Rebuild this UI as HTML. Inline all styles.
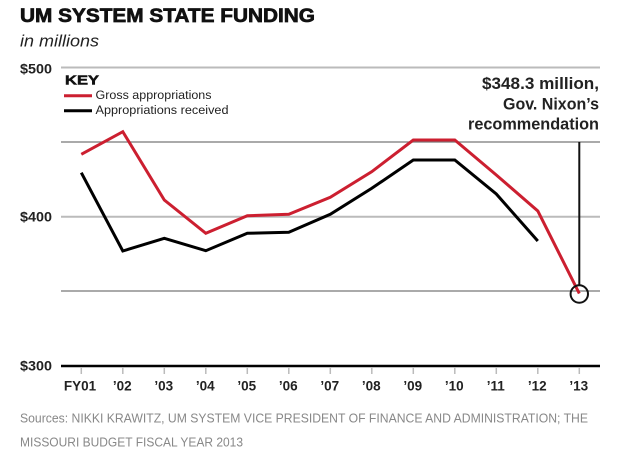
<!DOCTYPE html>
<html><head><meta charset="utf-8"><style>
html,body{margin:0;padding:0;background:#fff;}
svg{display:block;}
</style></head><body>
<svg width="624" height="456" viewBox="0 0 624 456" xmlns="http://www.w3.org/2000/svg" font-family="Liberation Sans, Arial, sans-serif">
<rect width="624" height="456" fill="#fff"/>
<!-- title -->
<text x="20" y="22" font-size="19" font-weight="bold" fill="#111" stroke="#111" stroke-width="0.7" textLength="295" lengthAdjust="spacingAndGlyphs">UM SYSTEM STATE FUNDING</text>
<text x="20" y="46.5" font-size="17" font-style="italic" fill="#222" textLength="79" lengthAdjust="spacingAndGlyphs">in millions</text>
<!-- gridlines -->
<line x1="61" y1="67.5" x2="600" y2="67.5" stroke="#bbb" stroke-width="2"/>
<line x1="61" y1="142" x2="600" y2="142" stroke="#777" stroke-width="1.2"/>
<line x1="61" y1="216.7" x2="600" y2="216.7" stroke="#bbb" stroke-width="2"/>
<line x1="61" y1="291" x2="600" y2="291" stroke="#777" stroke-width="1.2"/>
<line x1="61" y1="366" x2="600" y2="366" stroke="#000" stroke-width="2.6"/>
<!-- y labels -->
<g font-size="13.5" font-weight="bold" fill="#222">
<text x="20" y="73.5" textLength="32" lengthAdjust="spacingAndGlyphs">$500</text>
<text x="20" y="221.5" textLength="32" lengthAdjust="spacingAndGlyphs">$400</text>
<text x="20" y="370.5" textLength="32" lengthAdjust="spacingAndGlyphs">$300</text>
</g>
<!-- ticks -->
<g stroke="#bbb" stroke-width="1.5">
<line x1="81.3" y1="367" x2="81.3" y2="374"/>
<line x1="122.8" y1="367" x2="122.8" y2="374"/>
<line x1="164.3" y1="367" x2="164.3" y2="374"/>
<line x1="205.8" y1="367" x2="205.8" y2="374"/>
<line x1="247.3" y1="367" x2="247.3" y2="374"/>
<line x1="288.8" y1="367" x2="288.8" y2="374"/>
<line x1="330.3" y1="367" x2="330.3" y2="374"/>
<line x1="371.8" y1="367" x2="371.8" y2="374"/>
<line x1="413.3" y1="367" x2="413.3" y2="374"/>
<line x1="454.8" y1="367" x2="454.8" y2="374"/>
<line x1="496.3" y1="367" x2="496.3" y2="374"/>
<line x1="537.8" y1="367" x2="537.8" y2="374"/>
<line x1="579.3" y1="367" x2="579.3" y2="374"/>
</g>
<g font-size="13.5" font-weight="bold" fill="#222" text-anchor="middle">
<text x="80" y="390.3">FY01</text>
<text x="122.3" y="390.3">’02</text>
<text x="163.8" y="390.3">’03</text>
<text x="205.3" y="390.3">’04</text>
<text x="246.8" y="390.3">’05</text>
<text x="288.3" y="390.3">’06</text>
<text x="329.8" y="390.3">’07</text>
<text x="371.3" y="390.3">’08</text>
<text x="412.8" y="390.3">’09</text>
<text x="454.3" y="390.3">’10</text>
<text x="495.8" y="390.3">’11</text>
<text x="537.3" y="390.3">’12</text>
<text x="578.8" y="390.3">’13</text>
</g>
<!-- annotation -->
<line x1="579.3" y1="142" x2="579.3" y2="285" stroke="#111" stroke-width="2"/>
<g font-size="16.5" font-weight="bold" fill="#222" text-anchor="end">
<text x="599" y="89" textLength="117" lengthAdjust="spacingAndGlyphs">$348.3 million,</text>
<text x="599" y="109.5" textLength="96" lengthAdjust="spacingAndGlyphs">Gov. Nixon’s</text>
<text x="599" y="129.5" textLength="131" lengthAdjust="spacingAndGlyphs">recommendation</text>
</g>
<!-- series -->
<polyline fill="none" stroke="#000" stroke-width="3" stroke-linejoin="miter" points="81.3,172.7 122.8,251 164.3,238.3 205.8,250.7 247.3,233.3 288.8,232.3 330.3,214.3 371.8,188.3 413.3,160 454.8,160 496.3,194 537.8,241"/>
<polyline fill="none" stroke="#cc1f30" stroke-width="3" stroke-linejoin="miter" points="81.3,154.3 122.8,131.7 164.3,200 205.8,233.3 247.3,215.7 288.8,214.3 330.3,197.3 371.8,171.7 413.3,140 454.8,140 496.3,175 537.8,211 579.3,293.5"/>
<circle cx="579.3" cy="294" r="8.7" fill="none" stroke="#111" stroke-width="2"/>
<!-- legend -->
<text x="65" y="84.3" font-size="13" font-weight="bold" fill="#111" stroke="#111" stroke-width="0.5" textLength="34" lengthAdjust="spacingAndGlyphs">KEY</text>
<line x1="64" y1="95.7" x2="92" y2="95.7" stroke="#cc1f30" stroke-width="3"/>
<text x="95.5" y="99" font-size="12.3" fill="#222" textLength="116" lengthAdjust="spacingAndGlyphs">Gross appropriations</text>
<line x1="64" y1="110.7" x2="92" y2="110.7" stroke="#000" stroke-width="3"/>
<text x="95.5" y="114" font-size="12.3" fill="#222" textLength="133" lengthAdjust="spacingAndGlyphs">Appropriations received</text>
<!-- sources -->
<g font-size="13" fill="#888">
<text x="20" y="422.5" textLength="568" lengthAdjust="spacingAndGlyphs">Sources: NIKKI KRAWITZ, UM SYSTEM VICE PRESIDENT OF FINANCE AND ADMINISTRATION;  THE</text>
<text x="20" y="446.5" textLength="223" lengthAdjust="spacingAndGlyphs">MISSOURI BUDGET FISCAL YEAR 2013</text>
</g>
</svg>
</body></html>
